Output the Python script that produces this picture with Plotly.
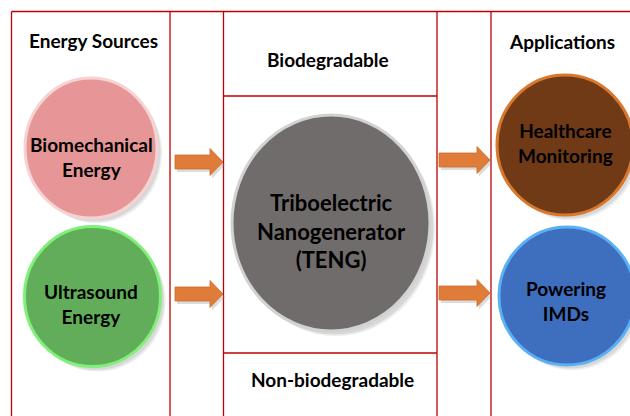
import plotly.graph_objects as go

# ---- content ----
headers = ["Energy Sources", "Biodegradable", "Non-biodegradable", "Applications"]
source_labels = ["Biomechanical<br>Energy", "Ultrasound<br>Energy"]
center_label = "Triboelectric<br>Nanogenerator<br>(TENG)"
app_labels = ["Healthcare<br>Monitoring", "Powering<br>IMDs"]

# ---- layout constants (pixel space) ----
W, H = 630, 416
FONT = "Lato"
RED = "#c00000"

header_pos = [(93, 40), (328, 59), (332, 379), (562, 41)]
circles = [  # cx, cy, rx, ry, fill, border
    (91, 148, 66, 70, "#e69696", "#f6d2d2"),
    (92.5, 296.5, 68, 70, "#62ad5a", "#80f07a"),
    (331, 223, 99, 108, "#706c6b", "#d2d2d2"),
    (565, 145, 68, 70, "#703a17", "#d7782d"),
    (567, 296, 68, 69, "#3e6ebe", "#5aaff5"),
]
arrows = [(175, 223, 162), (175, 223, 294), (439, 490, 160), (439, 490, 293)]

fig = go.Figure()
shapes = []

def line(x0, y0, x1, y1):
    shapes.append(dict(type="line", x0=x0, y0=y0, x1=x1, y1=y1,
                       line=dict(color=RED, width=1.3), layer="below"))

line(11.5, 11.5, 640, 11.5)
for x in [11.5, 170, 223.5, 437, 491]:
    line(x, 11.5, x, 430)
line(223.5, 96, 437, 96)
line(223.5, 353, 437, 353)

for cx, cy, rx, ry, fill, border in circles:
    for off, op in [(5, 0.18), (3.5, 0.25)]:
        shapes.append(dict(type="circle", x0=cx - rx + off, x1=cx + rx + off,
                           y0=cy - ry + off, y1=cy + ry + off,
                           fillcolor="#9a9a9a", opacity=op, line=dict(width=0)))
for cx, cy, rx, ry, fill, border in circles:
    shapes.append(dict(type="circle", x0=cx - rx, x1=cx + rx, y0=cy - ry, y1=cy + ry,
                       fillcolor=fill, line=dict(color=border, width=3)))

for x0, x1, cy in arrows:
    hl = 13
    sh, hh = 7, 13.5
    def path(dx, dy):
        pts = [(x0, cy - sh), (x1 - hl, cy - sh), (x1 - hl, cy - hh), (x1, cy),
               (x1 - hl, cy + hh), (x1 - hl, cy + sh), (x0, cy + sh)]
        return "M " + " L ".join(f"{px+dx},{py+dy}" for px, py in pts) + " Z"
    shapes.append(dict(type="path", path=path(2, 3), fillcolor="#8a8a8a",
                       opacity=0.3, line=dict(width=0)))
    shapes.append(dict(type="path", path=path(0, 0), fillcolor="#e07c3a",
                       line=dict(color="#d06a28", width=0.8)))

annotations = []
def text(x, y, t, size):
    annotations.append(dict(x=x, y=y, text=t, showarrow=False, xref="x", yref="y",
                            font=dict(family=FONT, size=size, color="#000000"),
                            xanchor="center", yanchor="middle", align="center"))

for (x, y), t in zip(header_pos, headers):
    text(x, y, f"<b>{t}</b>", 19)
text(circles[0][0], 157, f"<b>{source_labels[0]}</b>", 19)
text(circles[1][0] - 2, 304, f"<b>{source_labels[1]}</b>", 19)
text(circles[2][0], 231, f"<b>{center_label}</b>", 22)
text(circles[3][0], 143, f"<b>{app_labels[0]}</b>", 19)
text(circles[4][0] - 1, 301, f"<b>{app_labels[1]}</b>", 19)

fig.update_layout(
    width=W, height=H, margin=dict(l=0, r=0, t=0, b=0),
    paper_bgcolor="white", plot_bgcolor="white",
    xaxis=dict(range=[0, W], visible=False, fixedrange=True),
    yaxis=dict(range=[H, 0], visible=False, fixedrange=True),
    shapes=shapes, annotations=annotations, showlegend=False,
)
fig.write_html(
    "out.html",
    config={"displayModeBar": False, "staticPlot": True},
    post_script="document.body.style.margin='0';document.body.style.overflow='hidden';",
)
